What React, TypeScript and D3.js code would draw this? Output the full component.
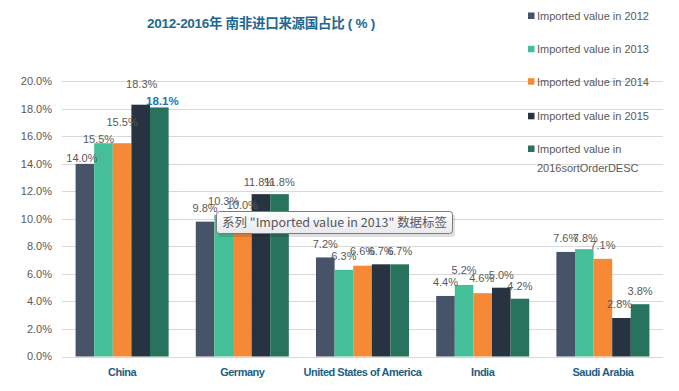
import * as d3 from "d3";

const countries = ["China", "Germany", "United States of America", "India", "Saudi Arabia"];
const seriesNames = [
  "Imported value in 2012",
  "Imported value in 2013",
  "Imported value in 2014",
  "Imported value in 2015",
  "Imported value in 2016sortOrderDESC",
];
const v2012 = [14.0, 9.8, 7.2, 4.4, 7.6];
const v2013 = [15.5, 10.3, 6.3, 5.2, 7.8];
const v2014 = [15.5, 10.0, 6.6, 4.6, 7.1];
const v2015 = [18.3, 11.8, 6.7, 5.0, 2.8];
const v2016 = [18.1, 11.8, 6.7, 4.2, 3.8];
const yTicks = [0, 2, 4, 6, 8, 10, 12, 14, 16, 18, 20];

const seriesValues = [v2012, v2013, v2014, v2015, v2016];
const colors = ["#465369", "#45bf98", "#f68935", "#283341", "#27735e"];

// label placement as in the source (how far above the bar top, sideways nudge)
const labelLift = [
  [6, 4, 21, 21, 6],
  [14, 14, 14, 12, 12],
  [13, 14, 15, 13, 13],
  [14, 15, 15, 13, 13],
  [14, 11, 14, 14, 13],
];
const labelNudge = [
  [-3, -5, 0, 1, 3],
  [0, 0, 0, -2, 0],
  [0, 0, 0, 0, 0],
  [0, 0, -1, 0, 0],
  [0, 1, 0, -2, 0],
];

const W = 679;
const H = 391;
const FONT = "'Liberation Sans', Arial, 'Noto Sans CJK SC', sans-serif";

export default function App() {
  const x0 = d3.scaleBand<string>().domain(countries).range([62, 663]).padding(0);
  const x1 = d3
    .scaleBand<number>()
    .domain(d3.range(seriesNames.length))
    .range([0, x0.bandwidth()])
    .paddingInner(0)
    .paddingOuter(0.73);
  const y = d3.scaleLinear().domain([0, 20]).range([356.5, 81.3]);

  return (
    <svg
      width={W}
      height={H}
      style={{ position: "absolute", left: 0, top: 0, background: "#fff" }}
      fontFamily={FONT}
    >
      <defs>
        <linearGradient id="tipFill" x1="0" y1="0" x2="0" y2="1">
          <stop offset="0" stopColor="#ffffff" />
          <stop offset="1" stopColor="#e8e8ee" />
        </linearGradient>
      </defs>

      <text
        x={261}
        y={23}
        dy="0.35em"
        textAnchor="middle"
        fontSize={13.5}
        fontWeight="bold"
        fill="#1d6890"
        letterSpacing={-0.3}
      >
        2012-2016年 南非进口来源国占比 ( % )
      </text>

      {/* grid + y axis */}
      {yTicks.map((t) => (
        <g key={t}>
          <line x1={62} x2={663} y1={Math.round(y(t)) + 0.5} y2={Math.round(y(t)) + 0.5} stroke="#d9d9d9" />
          <text x={52} y={y(t)} dy="0.35em" textAnchor="end" fontSize={11} fill="#595959">
            {d3.format(".1f")(t)}%
          </text>
        </g>
      ))}

      {/* bars */}
      {countries.map((c, ci) => (
        <g key={c} transform={`translate(${x0(c)},0)`}>
          {seriesValues.map((vals, si) => (
            <rect
              key={si}
              x={x1(si)}
              y={y(vals[ci])}
              width={x1.bandwidth()}
              height={y(0) - y(vals[ci])}
              fill={colors[si]}
            />
          ))}
        </g>
      ))}

      {/* value labels */}
      {countries.map((c, ci) =>
        seriesValues.map((vals, si) => {
          const cx = (x0(c) as number) + (x1(si) as number) + x1.bandwidth() / 2 + labelNudge[ci][si];
          const emph = ci === 0 && si === 4;
          return (
            <text
              key={`${c}-${si}`}
              x={cx}
              y={y(vals[ci]) - labelLift[ci][si]}
              dy="0.35em"
              textAnchor="middle"
              fontSize={emph ? 11.5 : 11}
              fontWeight={emph ? "bold" : "normal"}
              fill={emph ? "#1b77ad" : "#595959"}
            >
              {d3.format(".1f")(vals[ci])}%
            </text>
          );
        })
      )}

      {/* x axis labels */}
      {countries.map((c) => (
        <text
          key={c}
          x={(x0(c) as number) + x0.bandwidth() / 2}
          y={372}
          dy="0.35em"
          textAnchor="middle"
          fontSize={11}
          fontWeight="bold"
          fill="#1c5f86"
          letterSpacing={-0.5}
        >
          {c}
        </text>
      ))}

      {/* legend */}
      {seriesNames.map((s, si) => {
        const rowY = [16, 49.3, 81.7, 116.3, 149][si];
        const lines = si === 4 ? ["Imported value in", "2016sortOrderDESC"] : [s];
        return (
          <g key={s}>
            <rect x={528} y={rowY - 3.5} width={6.5} height={6.5} fill={colors[si]} />
            {lines.map((ln, li) => (
              <text key={li} x={537} y={rowY + li * 18.7} dy="0.35em" fontSize={11} fill="#595959">
                {ln}
              </text>
            ))}
          </g>
        );
      })}

      {/* hover tooltip */}
      <g>
        <rect x={218} y={214} width={237} height={23} rx={3} fill="#000" opacity={0.12} />
        <rect x={216.5} y={211.5} width={236} height={22} rx={3} fill="url(#tipFill)" stroke="#7a7a7a" />
        <text
          x={222}
          y={222.5}
          dy="0.35em"
          fontSize={12}
          fill="#555"
          fontFamily="'Noto Sans CJK SC', 'Liberation Sans', sans-serif"
          textLength={225}
          lengthAdjust="spacingAndGlyphs"
        >
          系列 "Imported value in 2013" 数据标签
        </text>
      </g>
    </svg>
  );
}
